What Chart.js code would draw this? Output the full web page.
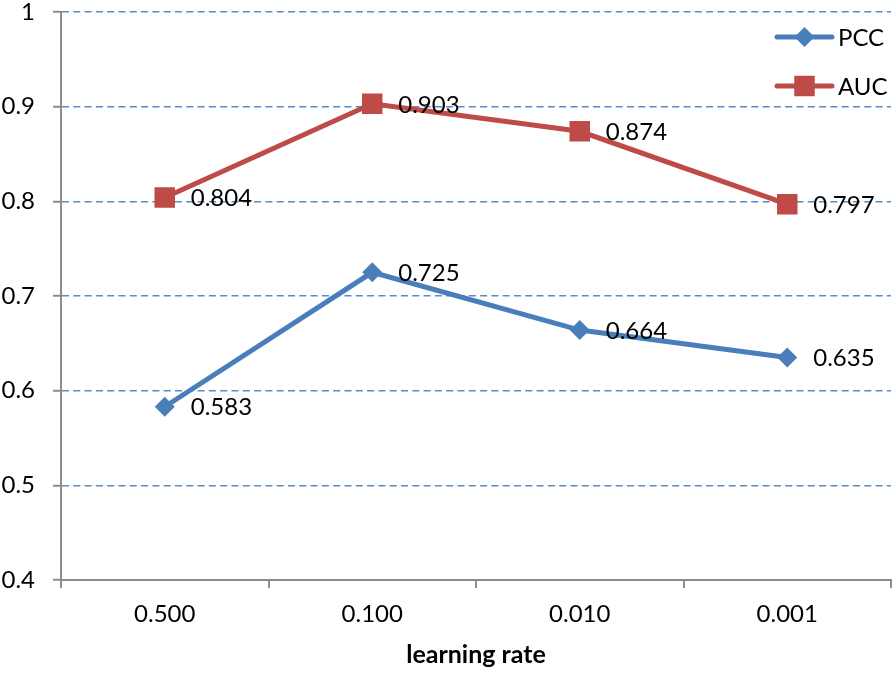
<!DOCTYPE html>
<html>
<head>
<meta charset="utf-8">
<script src="https://cdn.jsdelivr.net/npm/chart.js@4.4.0/dist/chart.umd.min.js"></script>
<style>
  html, body { margin: 0; padding: 0; background: #fff; }
</style>
</head>
<body>
<div style="width: 896px; height: 675px;">
  <canvas id="lrChart" width="896" height="675"></canvas>
</div>
<script>
  var categories = ["0.500", "0.100", "0.010", "0.001"];
  var pccValues = [0.583, 0.725, 0.664, 0.635];
  var aucValues = [0.804, 0.903, 0.874, 0.797];
  var yTicks = [0.4, 0.5, 0.6, 0.7, 0.8, 0.9, 1];

  var blue = "#4A7EBB";
  var red = "#BE4B48";
  var axisGray = "#8C8C8C";
  var fontFamily = "Lato, 'Open Sans', sans-serif";

  // value labels to the right of each point
  var valueLabels = {
    id: "valueLabels",
    afterDatasetsDraw: function(chart) {
      var ctx = chart.ctx;
      ctx.save();
      ctx.font = "24px " + fontFamily;
      ctx.fillStyle = "#000";
      ctx.textAlign = "left";
      ctx.textBaseline = "middle";
      chart.data.datasets.forEach(function(ds, i) {
        chart.getDatasetMeta(i).data.forEach(function(pt, j) {
          ctx.fillText(ds.data[j].toFixed(3), pt.x + 26, pt.y + 1);
        });
      });
      ctx.restore();
    }
  };

  // vertical legend in the top right corner
  var cornerLegend = {
    id: "cornerLegend",
    afterDraw: function(chart) {
      var ctx = chart.ctx;
      var right = chart.chartArea.right;
      ctx.save();
      chart.data.datasets.forEach(function(ds, i) {
        var y = 37 + i * 49;
        var x0 = right - 114, x1 = right - 59;
        ctx.strokeStyle = ds.borderColor;
        ctx.lineWidth = ds.borderWidth;
        ctx.lineCap = "round";
        ctx.beginPath();
        ctx.moveTo(x0, y);
        ctx.lineTo(x1, y);
        ctx.stroke();
        ctx.fillStyle = ds.pointBackgroundColor;
        Chart.helpers.drawPoint(ctx, {
          pointStyle: ds.pointStyle,
          radius: ds.pointRadius,
          borderWidth: 0
        }, (x0 + x1) / 2, y);
        ctx.fillStyle = "#000";
        ctx.font = "24px " + fontFamily;
        ctx.textAlign = "left";
        ctx.textBaseline = "middle";
        ctx.fillText(ds.label, x1 + 6, y + 1);
      });
      ctx.restore();
    }
  };

  var context = document.getElementById("lrChart").getContext("2d");

  var myLineChart = new Chart(context, {
    type: "line",
    data: {
      labels: categories,
      datasets: [
        {
          label: "PCC",
          data: pccValues,
          borderColor: blue,
          backgroundColor: blue,
          pointBackgroundColor: blue,
          pointBorderColor: blue,
          borderWidth: 5,
          pointStyle: "rectRot",
          pointRadius: 10,
          pointBorderWidth: 0,
          tension: 0
        },
        {
          label: "AUC",
          data: aucValues,
          borderColor: red,
          backgroundColor: red,
          pointBackgroundColor: red,
          pointBorderColor: red,
          borderWidth: 5,
          pointStyle: "rect",
          pointRadius: 14.5,
          pointBorderWidth: 0,
          tension: 0
        }
      ]
    },
    options: {
      responsive: false,
      animation: false,
      layout: { autoPadding: false, padding: { top: 12, right: 5, left: 0, bottom: 0 } },
      plugins: {
        legend: { display: false },
        tooltip: { enabled: false }
      },
      scales: {
        x: {
          offset: true,
          grid: {
            offset: true,
            drawOnChartArea: false,
            drawTicks: true,
            tickLength: 8,
            color: axisGray,
            lineWidth: 2
          },
          border: { color: axisGray, width: 2 },
          ticks: {
            color: "#000",
            padding: 12,
            font: { family: fontFamily, size: 24 }
          },
          title: {
            display: true,
            text: "learning rate",
            color: "#000",
            font: { family: fontFamily, size: 25, weight: "bold" },
            padding: { top: 0, bottom: 5 }
          },
          afterFit: function(scale) { scale.height = 95; }
        },
        y: {
          min: 0.4,
          max: 1,
          afterBuildTicks: function(scale) {
            scale.ticks = yTicks.map(function(v) { return { value: v }; });
          },
          grid: {
            color: function(c) { return c.tick && c.tick.value === 0.4 ? "rgba(0,0,0,0)" : "#5B8BC6"; },
            lineWidth: 1.5,
            tickColor: axisGray,
            tickWidth: 2,
            tickLength: 8
          },
          border: { color: axisGray, width: 2, dash: [7, 4.3] },
          ticks: {
            color: "#000",
            padding: 18,
            font: { family: fontFamily, size: 24, lineHeight: 1 },
            callback: function(v) { return v === 1 ? "1" : v.toFixed(1); }
          },
          afterFit: function(scale) {
            scale.width = 61;
            scale.paddingTop = 0;
            scale.paddingBottom = 0;
          }
        }
      }
    },
    plugins: [valueLabels, cornerLegend]
  });
</script>
</body>
</html>
